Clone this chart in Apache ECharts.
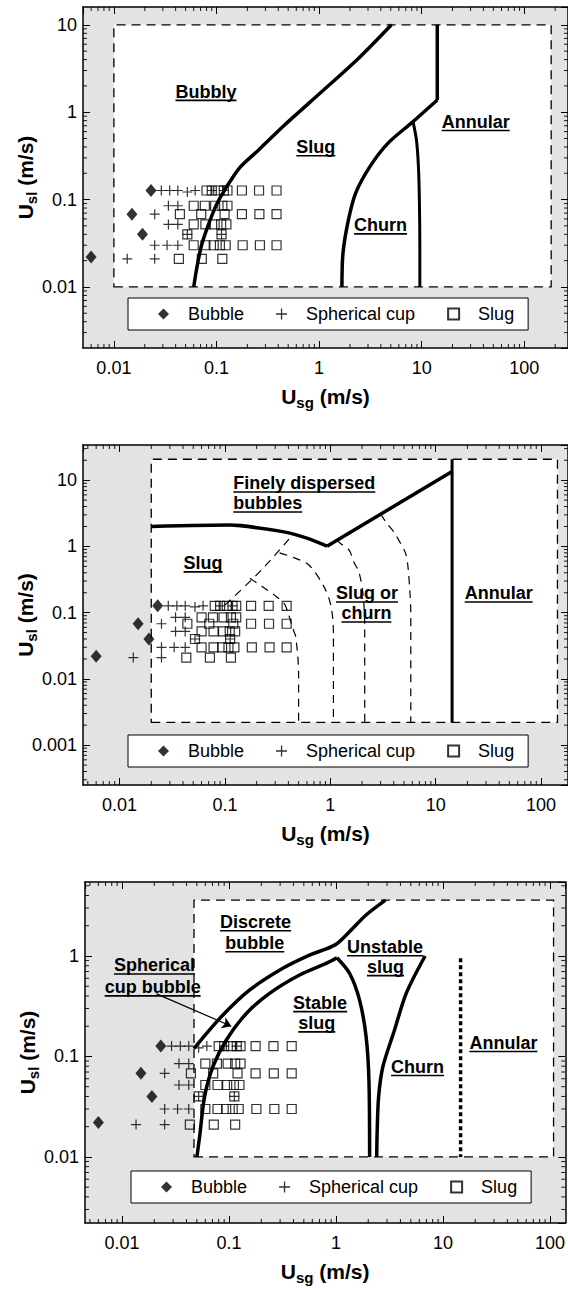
<!DOCTYPE html>
<html>
<head>
<meta charset="utf-8">
<script src="https://cdn.jsdelivr.net/npm/echarts@6/dist/echarts.min.js"></script>
<style>
html,body{margin:0;padding:0;background:#fff;}
#main{width:568px;height:1289px;}
</style>
</head>
<body>
<div id="main"></div>
<script>
// observed regimes, [Usg, Usl] in m/s (same data in all three maps)
var bubble = [[0.006,0.022],[0.015,0.068],[0.019,0.040],[0.023,0.127]];
var sphericalCup = [
	[0.029,0.127],[0.035,0.127],[0.042,0.127],[0.052,0.122],[0.062,0.127],[0.09,0.127],[0.118,0.127],
	[0.034,0.085],[0.042,0.085],
	[0.025,0.068],
	[0.034,0.052],[0.042,0.052],
	[0.052,0.040],[0.112,0.040],
	[0.025,0.030],[0.033,0.030],[0.042,0.030],
	[0.0135,0.021],[0.025,0.021]
];
var slug = [
	[0.080,0.127],[0.090,0.127],[0.104,0.127],[0.118,0.127],[0.128,0.127],[0.177,0.127],[0.26,0.127],[0.385,0.127],
	[0.060,0.085],[0.077,0.085],[0.097,0.085],[0.114,0.085],[0.128,0.085],
	[0.044,0.068],[0.071,0.068],[0.12,0.068],[0.177,0.068],[0.262,0.068],[0.385,0.068],
	[0.060,0.052],[0.078,0.052],[0.096,0.052],[0.111,0.052],[0.125,0.052],
	[0.052,0.040],[0.112,0.040],
	[0.060,0.030],[0.078,0.030],[0.094,0.030],[0.108,0.030],[0.123,0.030],[0.18,0.030],[0.265,0.030],[0.385,0.030],
	[0.043,0.021],[0.072,0.021],[0.114,0.021]
];

// axis extents of the three maps
var xRange = [[0.005,267],[0.0045,180],[0.0045,139]];
var yRange = [[0.002,16],[0.00025,34],[0.0022,5.45]];
// dashed range boxes [lower-left, upper-right]
var boxes = [
	[[0.01,0.01],[183,10]],
	[[0.02,0.0022],[143,20.7]],
	[[0.047,0.01],[108,3.6]]
];

// map 1 boundaries
var m1BubblySlug = [[0.06,0.01],[0.0646,0.017],[0.071,0.029],[0.080,0.045],[0.098,0.083],[0.115,0.118],[0.135,0.16],[0.172,0.238],[0.258,0.37],[0.453,0.7],[1.1,1.78],[2.46,4.2],[5.08,10]];
var m1AnnularTop = [[14.2,10],[14.2,1.38]];
var m1SlugChurn = [[14.2,1.38],[8.24,0.78],[4.68,0.44],[3.13,0.238],[2.27,0.118],[1.93,0.058],[1.71,0.0243],[1.67,0.01]];
var m1ChurnAnnular = [[8.24,0.78],[8.9,0.48],[9.3,0.24],[9.5,0.1],[9.6,0.03],[9.6,0.01]];

// map 2 boundaries
var m2DispersedFlat = [[0.02,2.0],[0.112,2.1],[0.363,1.66],[0.63,1.3],[0.93,1.01]];
var m2DispersedRise = [[0.93,1.01],[14.3,13.5]];
var m2Annular = [[14.3,20.7],[14.3,0.0022]];
var m2Dash1 = [[0.1,0.13],[0.222,0.44],[0.44,1.5]];
var m2Dash2 = [[0.172,0.33],[0.229,0.245],[0.295,0.184],[0.363,0.139],[0.39,0.109],[0.44,0.058],[0.47,0.043],[0.5,0.012],[0.5,0.0022]];
var m2Dash3 = [[0.33,0.8],[0.47,0.66],[0.63,0.52],[0.875,0.243],[1.02,0.121],[1.07,0.046],[1.07,0.0022]];
var m2Dash4 = [[1.15,1.24],[1.26,1.1],[1.51,0.88],[1.67,0.58],[1.87,0.41],[2.05,0.18],[2.12,0.06],[2.12,0.0022]];
var m2Dash5 = [[3.0,3.1],[3.36,2.35],[4.0,1.66],[4.66,1.1],[5.19,0.78],[5.45,0.5],[5.7,0.195],[5.8,0.1],[5.8,0.0022]];

// map 3 boundaries
var m3Discrete = [[0.047,0.12],[0.0845,0.248],[0.156,0.459],[0.318,0.754],[0.565,1.02],[0.98,1.29],[1.34,1.75],[1.91,2.56],[2.9,3.6]];
var m3StableTop = [[0.05,0.01],[0.053,0.0158],[0.059,0.0396],[0.0706,0.079],[0.094,0.145],[0.145,0.268],[0.239,0.425],[0.456,0.647],[0.81,0.845],[1.02,0.96]];
var m3StableRight = [[1.02,0.96],[1.34,0.67],[1.66,0.364],[1.91,0.157],[2.03,0.058],[2.06,0.01]];
var m3Churn = [[6.8,1.0],[4.53,0.425],[3.52,0.183],[2.74,0.079],[2.5,0.0396],[2.42,0.017],[2.4,0.01]];
var m3Annular = [[14.6,0.95],[14.6,0.01]];
var m3Arrow = [[0.021,0.42],[0.105,0.2]];

// regime names: [map, text, Usg, Usl, align]
var regimeLabels = [
	[0,'Bubbly',0.079,1.72],
	[0,'Slug',0.93,0.40],
	[0,'Annular',33.6,0.78],
	[0,'Churn',3.98,0.051],
	[1,'Finely dispersed',0.12,9.0,'left'],
	[1,'bubbles',0.12,4.5,'left'],
	[1,'Slug',0.062,0.56],
	[1,'Slug or',2.23,0.197],
	[1,'churn',2.2,0.098],
	[1,'Annular',39.6,0.197],
	[2,'Discrete',0.177,2.18],
	[2,'bubble',0.174,1.35],
	[2,'Spherical',0.0201,0.81],
	[2,'cup bubble',0.0193,0.49],
	[2,'Unstable',2.87,1.23],
	[2,'slug',2.9,0.78],
	[2,'Stable',0.71,0.342],
	[2,'slug',0.66,0.215],
	[2,'Churn',5.78,0.079],
	[2,'Annular',36.7,0.137]
];
var legendNames = ['Bubble','Spherical cup','Slug'];

var FONT = '"Liberation Sans", Arial, Helvetica, sans-serif';
var grids = [
	{left:83, top:7, width:487, height:341},
	{left:83, top:445, width:487, height:340},
	{left:85, top:882, width:485, height:341}
];
var legendPos = [[128,298],[128,735],[131,1171]];
var plusPath = 'path://M4.4,0H5.6V4.4H10V5.6H5.6V10H4.4V5.6H0V4.4H4.4Z';

var nameRich = {
	b:{fontSize:21, fontWeight:'bold', fontFamily:FONT, color:'#000', lineHeight:28},
	s:{fontSize:15, fontWeight:'bold', fontFamily:FONT, color:'#000', verticalAlign:'bottom'}
};

// log minor tick positions (2..9 per decade) inside an axis extent
function minorTicks(range){
	var out = [];
	for (var e = Math.floor(Math.log10(range[0])); e <= Math.ceil(Math.log10(range[1])); e++) {
		for (var k = 2; k <= 9; k++) {
			var v = k * Math.pow(10, e);
			if (v > range[0] && v < range[1]) out.push(v);
		}
	}
	return out;
}

var xAxes = [], yAxes = [], series = [], legends = [];

function axisBase(i, range, pos){
	return {
		type:'log', gridIndex:i, min:range[0], max:range[1], position:pos,
		splitLine:{show:false},
		axisLine:{onZero:false, lineStyle:{color:'#000', width:1.5}},
		axisTick:{inside:true, length:7, lineStyle:{color:'#000', width:1}},
		axisLabel:{show:false}
	};
}

function curve(i, pts, style, smooth){
	return {
		type:'line', xAxisIndex:2*i, yAxisIndex:2*i, data:pts,
		showSymbol:false, symbol:'none', silent:true, z:4,
		smooth: smooth == null ? 0.3 : smooth,
		lineStyle: style || {color:'#000', width:3.5}
	};
}
var dashed = {color:'#000', width:1.2, type:[8,6]};

// short inward ticks on both opposite frame edges, placed by the axis scale
function minorTickSeries(i, vertical){
	var vals = minorTicks(vertical ? yRange[i] : xRange[i]);
	var data = vals.map(function(v){ return vertical ? [xRange[i][0], v] : [v, yRange[i][0]]; });
	return {
		type:'custom', xAxisIndex:2*i, yAxisIndex:2*i, data:data, silent:true, z:8, clip:false,
		renderItem:function(params, api){
			var cs = params.coordSys;
			var p = api.coord([api.value(0), api.value(1)]);
			var st = {stroke:'#000', lineWidth:0.9};
			if (vertical) {
				return {type:'group', children:[
					{type:'line', shape:{x1:cs.x, y1:p[1], x2:cs.x + 4, y2:p[1]}, style:st},
					{type:'line', shape:{x1:cs.x + cs.width, y1:p[1], x2:cs.x + cs.width - 4, y2:p[1]}, style:st}
				]};
			}
			return {type:'group', children:[
				{type:'line', shape:{x1:p[0], y1:cs.y + cs.height, x2:p[0], y2:cs.y + cs.height - 4}, style:st},
				{type:'line', shape:{x1:p[0], y1:cs.y, x2:p[0], y2:cs.y + 4}, style:st}
			]};
		}
	};
}

for (var i = 0; i < 3; i++) {
	var bx = axisBase(i, xRange[i], 'bottom');
	bx.axisLabel = {color:'#000', fontSize:18, fontFamily:FONT, margin:11, showMinLabel:false, showMaxLabel:false};
	bx.name = '{b|U}{s|sg}{b| (m/s)}';
	bx.nameLocation = 'middle';
	bx.nameGap = 34;
	bx.nameMoveOverlap = false;
	bx.nameTextStyle = {rich:nameRich};
	xAxes.push(bx, axisBase(i, xRange[i], 'top'));

	var ly = axisBase(i, yRange[i], 'left');
	ly.axisLabel = {color:'#000', fontSize:18, fontFamily:FONT, margin:6, showMinLabel:false, showMaxLabel:false};
	ly.name = '{b|U}{s|sl}{b| (m/s)}';
	ly.nameLocation = 'middle';
	ly.nameGap = 44;
	ly.nameMoveOverlap = false;
	ly.nameTextStyle = {rich:nameRich};
	yAxes.push(ly, axisBase(i, yRange[i], 'right'));

	// dashed range box
	series.push({
		type:'line', xAxisIndex:2*i, yAxisIndex:2*i, data:boxes[i],
		showSymbol:false, symbol:'none', silent:true, z:1,
		lineStyle:{opacity:0},
		markArea:{
			silent:true,
			itemStyle:{color:'#fff', borderColor:'#000', borderWidth:1.3, borderType:[9,6]},
			data:[[{coord:boxes[i][0]},{coord:boxes[i][1]}]]
		}
	});

	series.push({
		name:'Bubble', type:'scatter', xAxisIndex:2*i, yAxisIndex:2*i, data:bubble,
		symbol:'diamond', symbolSize:[11,13], itemStyle:{color:'#000'}, z:5, silent:true
	});
	series.push({
		name:'Slug', type:'scatter', xAxisIndex:2*i, yAxisIndex:2*i, data:slug,
		symbol:'rect', symbolSize:9,
		itemStyle:{color:'rgba(0,0,0,0)', borderColor:'#000', borderWidth:1.2}, z:5, silent:true
	});
	series.push({
		name:'Spherical cup', type:'scatter', xAxisIndex:2*i, yAxisIndex:2*i, data:sphericalCup,
		symbol:plusPath, symbolSize:10, itemStyle:{color:'#000'}, z:6, silent:true
	});
	series.push(minorTickSeries(i, false));
	series.push(minorTickSeries(i, true));

	legends.push({
		left:legendPos[i][0], top:legendPos[i][1],
		data:legendNames, selectedMode:false,
		backgroundColor:'#fff', borderColor:'#000', borderWidth:1,
		padding:[7,14,7,30], itemGap:32, itemWidth:11, itemHeight:11,
		formatter:function(name){ return '{g|\u00a0}{t|' + name + '}'; },
		textStyle:{color:'#000', fontSize:18, fontFamily:FONT,
			rich:{g:{width:14}, t:{fontSize:18, fontFamily:FONT, color:'#000'}}}
	});
}

// map 1
series.push(curve(0, m1BubblySlug));
series.push(curve(0, m1AnnularTop, null, 0));
series.push(curve(0, m1SlugChurn));
series.push(curve(0, m1ChurnAnnular, {color:'#000', width:3}));
// map 2
series.push(curve(1, m2DispersedFlat, null, 0.2));
series.push(curve(1, m2DispersedRise, null, 0));
series.push(curve(1, m2Annular, {color:'#000', width:3}, 0));
series.push(curve(1, m2Dash1, dashed));
series.push(curve(1, m2Dash2, dashed));
series.push(curve(1, m2Dash3, dashed));
series.push(curve(1, m2Dash4, dashed));
series.push(curve(1, m2Dash5, dashed));
// map 3
series.push(curve(2, m3Discrete));
series.push(curve(2, m3StableTop));
series.push(curve(2, m3StableRight));
series.push(curve(2, m3Churn));
series.push(curve(2, m3Annular, {color:'#000', width:3.5, type:[4,3]}, 0));
series.push({
	type:'lines', coordinateSystem:'cartesian2d', xAxisIndex:4, yAxisIndex:4,
	data:[{coords:m3Arrow}], symbol:['none','arrow'], symbolSize:9, silent:true, z:6,
	lineStyle:{color:'#000', width:1.2, opacity:1}
});

var chart = echarts.init(document.getElementById('main'), null, {renderer:'svg'});
chart.setOption({
	animation:false,
	backgroundColor:'#fff',
	grid: grids.map(function(g){
		return {left:g.left, top:g.top, width:g.width, height:g.height, show:true, backgroundColor:'#e3e3e3', borderWidth:0, containLabel:false};
	}),
	xAxis:xAxes,
	yAxis:yAxes,
	legend:legends,
	series:series
});

// underlined regime names, placed through the axes
var labelFont = 'bold 18px ' + FONT;
var ctx = document.createElement('canvas').getContext('2d');
ctx.font = labelFont;
var g = [];
regimeLabels.forEach(function(l){
	var p = chart.convertToPixel({gridIndex:l[0]}, [l[2], l[3]]);
	var w = ctx.measureText(l[1]).width;
	var align = l[4] || 'center';
	var x0 = align === 'left' ? p[0] : p[0] - w / 2;
	g.push({type:'text', x:p[0], y:p[1], z:100, silent:true,
		style:{text:l[1], font:labelFont, fill:'#000', align:align, verticalAlign:'middle'}});
	g.push({type:'rect', z:100, silent:true, shape:{x:x0, y:p[1] + 8, width:w, height:1.6}, style:{fill:'#000'}});
});
chart.setOption({graphic:g});
</script>
</body>
</html>
